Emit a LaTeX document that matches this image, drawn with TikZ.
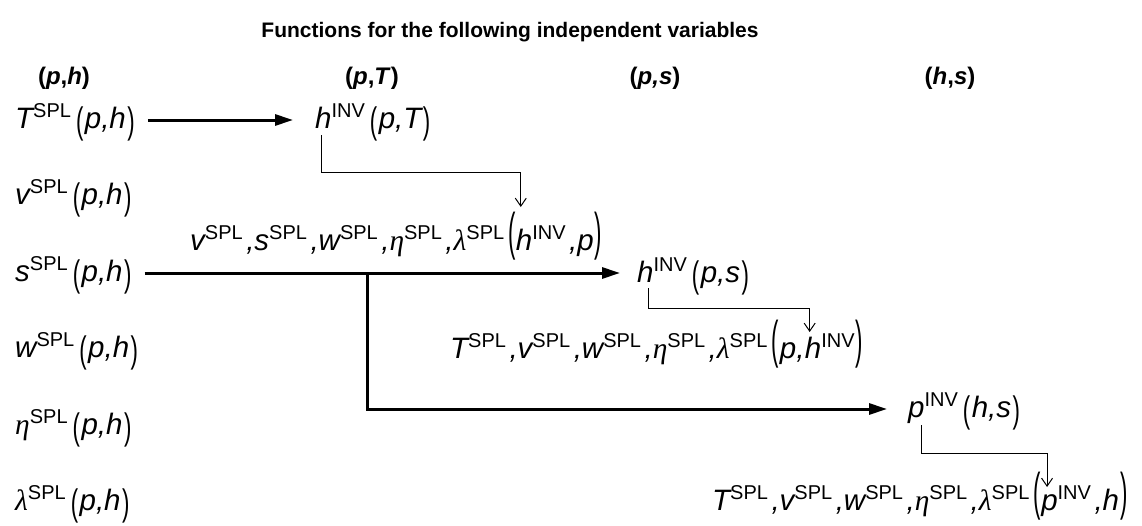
\documentclass[tikz,border=0pt]{standalone}
\usepackage[no-math]{fontspec}
\setmainfont{Liberation Sans}
\newfontfamily\grk{Liberation Serif}
\usetikzlibrary{arrows.meta}

% superscript tags and delimiters used in the function names
\newcommand\Sp[1]{\raisebox{10.5pt}{\fontsize{20}{20}\selectfont\upshape #1}}
\newcommand\cm{\hspace{3.5pt},}
\newcommand\lpar{\hspace{5pt}\raisebox{-5pt}{\scalebox{0.75}[1.25]{\upshape(}}\hspace{1.5pt}}
\newcommand\rpar{\hspace{1.5pt}\raisebox{-5pt}{\scalebox{0.75}[1.25]{\upshape)}}}
\newcommand\Lpar{\hspace{4pt}\raisebox{1pt}{\scalebox{0.75}[1.75]{\upshape(}}\hspace{1pt}}
\newcommand\Rpar{\hspace{1pt}\raisebox{1pt}{\scalebox{0.75}[1.75]{\upshape)}}}
\newcommand\geta{{\grk\itshape η}}
\newcommand\glam{{\grk\itshape λ}}

\tikzset{
  fn/.style={inner sep=0pt, anchor=base west, font=\fontsize{29.5}{34}\selectfont\itshape},
  head/.style={inner sep=0pt, anchor=base, font=\fontsize{24}{30}\selectfont\bfseries},
  title/.style={inner sep=0pt, anchor=base, font=\fontsize{21}{26}\selectfont\bfseries},
  mainflow/.style={line width=3pt, -{Triangle[length=18pt,width=11pt]}},
  sublink/.style={line width=1pt, -{Straight Barb[length=8pt,width=11pt]}}
}

\begin{document}
\begin{tikzpicture}[x=1pt,y=-1pt]
\useasboundingbox (0,0) rectangle (1142,525);

% title and column headers
\node[title] (ttl) at (510,37) {Functions for the following independent variables};
\node[head] (c1) at (64,84)  {(\textit{p},\textit{h})};
\node[head] (c2) at (372,84) {(\textit{p},\textit{T})};
\node[head] (c3) at (655,84) {(\textit{p,s})};
\node[head] (c4) at (950,84) {(\textit{h},\textit{s})};

% (p,h) column
\node[fn] (r1) at (15,128) {T\Sp{SPL}\lpar p,h\rpar};
\node[fn] (r2) at (15,204) {v\Sp{SPL}\lpar p,h\rpar};
\node[fn] (r3) at (15,281) {s\Sp{SPL}\lpar p,h\rpar};
\node[fn] (r4) at (15,357) {w\Sp{SPL}\lpar p,h\rpar};
\node[fn] (r5) at (15,434) {\geta\Sp{SPL}\lpar p,h\rpar};
\node[fn] (r6) at (15,510) {\glam\Sp{SPL}\lpar p,h\rpar};

% (p,T) column
\node[fn] (hT) at (315,128) {h\Sp{INV}\lpar p,T\rpar};
\node[fn] (L1a) at (190,250) {v\Sp{SPL}\cm s\Sp{SPL}\cm w\Sp{SPL}\cm\geta\Sp{SPL}\cm\glam\Sp{SPL}\Lpar};
\node[fn] (L1b) at (L1a.base east) {h\Sp{INV}\cm p\Rpar};

% (p,s) column
\node[fn] (hs) at (637,282) {h\Sp{INV}\lpar p,s\rpar};
\node[fn] (L2a) at (450,358) {T\Sp{SPL}\cm v\Sp{SPL}\cm w\Sp{SPL}\cm\geta\Sp{SPL}\cm\glam\Sp{SPL}\Lpar p,};
\node[fn] (L2b) at (L2a.base east) {h\Sp{INV}\Rpar};

% (h,s) column
\node[fn] (pI) at (908,417) {p\Sp{INV}\lpar h,s\rpar};
\node[fn] (L3a) at (712,510) {T\Sp{SPL}\cm v\Sp{SPL}\cm w\Sp{SPL}\cm\geta\Sp{SPL}\cm\glam\Sp{SPL}\Lpar};
\node[fn] (L3b) at (L3a.base east) {p\Sp{INV}\cm h\Rpar};

% main flows
\draw[mainflow] ([shift={(13pt,8pt)}]r1.base east) -- ([shift={(-22pt,8pt)}]hT.base west);
\coordinate (sfrom) at ([shift={(13pt,8pt)}]r3.base east);
\draw[mainflow] (sfrom) -- ([shift={(-17pt,9pt)}]hs.base west);
\coordinate (brx) at (367,0);
\coordinate (br) at (sfrom -| brx);
\draw[mainflow] (br) |- ([shift={(-21pt,8pt)}]pI.base west);

% inverse results feeding the dependent functions
\draw[sublink] ([shift={(6pt,-7pt)}]hT.base west) -- ++(0,37) -| ([shift={(5pt,43pt)}]L1b.base west);
\draw[sublink] ([shift={(11pt,-6pt)}]hs.base west) -- ++(0,20) -| ([shift={(5pt,26pt)}]L2b.base west);
\draw[sublink] ([shift={(13pt,-8pt)}]pI.base west) -- ++(0,28) -| ([shift={(6pt,23pt)}]L3b.base west);
\end{tikzpicture}
\end{document}
